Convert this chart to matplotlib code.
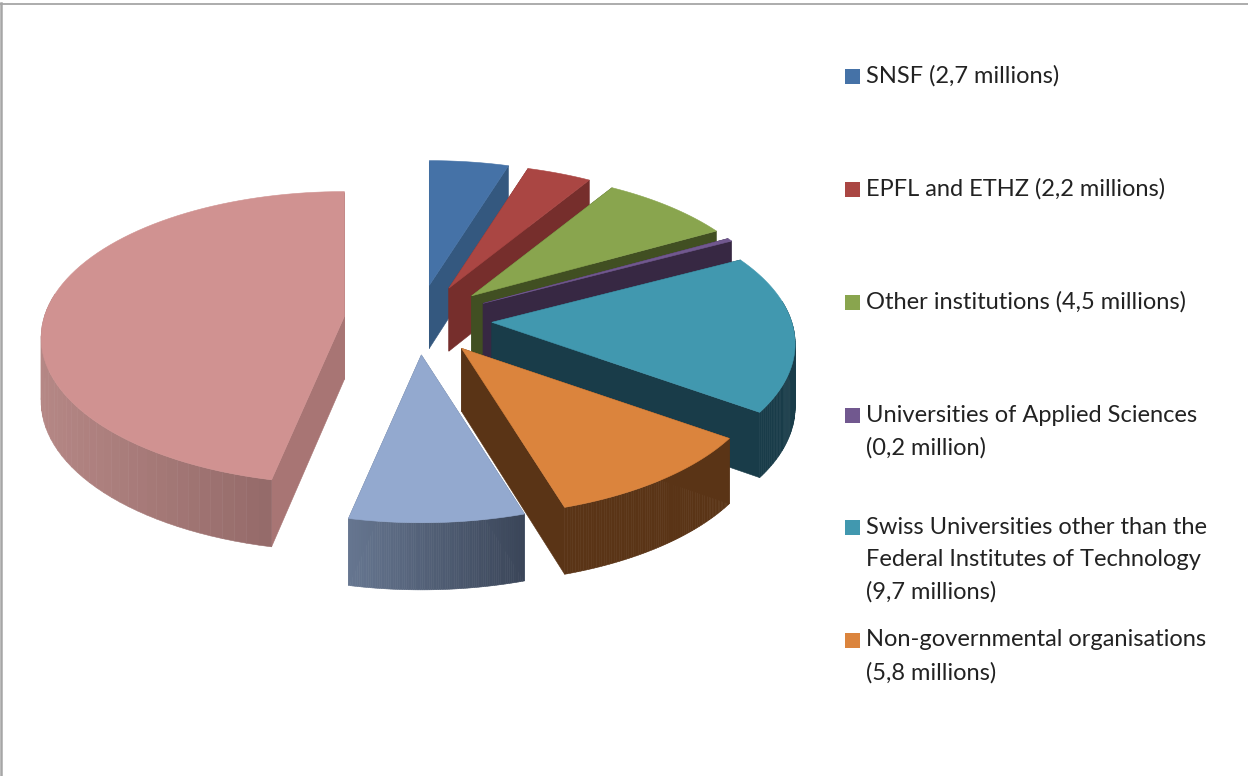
import numpy as np
import matplotlib
matplotlib.use("Agg")
import matplotlib.pyplot as plt
from matplotlib.patches import Polygon, Rectangle
from matplotlib.colors import to_rgb

# ---- data ----
labels = ["SNSF (2,7 millions)", "EPFL and ETHZ (2,2 millions)", "Other institutions (4,5 millions)",
          "Universities of Applied Sciences\n(0,2 million)",
          "Swiss Universities other than the\nFederal Institutes of Technology\n(9,7 millions)",
          "Non-governmental organisations\n(5,8 millions)", "", ""]
values = [2.7, 2.2, 4.5, 0.2, 9.7, 5.8, 4.5, 25.9]

# ---- style ----
top_colors = ["#4572A7", "#AA4643", "#89A54E", "#71588F", "#4198AF", "#DB843D", "#93A9CF", "#D09291"]
wall_colors = ["#34587F", "#762E2C", "#414F22", "#372843", "#193C49", "#5A3416", "#64738C", "#A87574"]
rim_left = ["#34587F", "#762E2C", "#414F22", "#372843", "#193C49", "#5A3416", "#667690", "#B58785"]
rim_right = ["#34587F", "#762E2C", "#414F22", "#372843", "#193C49", "#5A3416", "#3A4558", "#8A6160"]
legend_y = [76, 189, 302, 415, 527, 640]
line_h = 32.6
CX, CY = 418, 320
EX, EY = 74, 35
R, K, P, DEPTH = 300, 0.477, 0.147, 63

fig = plt.figure(figsize=(12.48, 7.76), dpi=100)
ax = fig.add_axes([0, 0, 1, 1])
ax.set_xlim(0, 1248)
ax.set_ylim(776, 0)
ax.axis("off")

def project(ax0, ay0, theta, radius):
    X = radius * np.sin(theta)
    Y = radius * np.cos(theta)
    s = 1 / (1 + P * Y / R)
    return ax0 + X * s, ay0 - K * Y * s, DEPTH * s ** 0.4

vals = np.array(values, dtype=float)
edges = np.concatenate([[0], np.cumsum(vals)]) / vals.sum() * 2 * np.pi
mids = (edges[:-1] + edges[1:]) / 2

def add(pts, color, z):
    ax.add_patch(Polygon(pts, closed=True, facecolor=color, edgecolor=color, lw=0.4, zorder=z))

order = np.argsort(-np.cos(mids))
for rank, i in enumerate(order):
    base = 10 + rank * 10
    ax0 = CX + EX * np.sin(mids[i])
    ay0 = CY - EY * np.cos(mids[i])
    th = np.linspace(edges[i], edges[i + 1], 80)
    x, y, d = project(ax0, ay0, th, R)
    # cut faces
    d0 = DEPTH
    for j in (0, -1):
        add([(ax0, ay0), (x[j], y[j]), (x[j], y[j] + d[j]), (ax0, ay0 + d0)], wall_colors[i], base)
    # outer rim strips
    cl, cr = np.array(to_rgb(rim_left[i])), np.array(to_rgb(rim_right[i]))
    span = max(x.max() - x.min(), 1)
    for j in range(len(th) - 1):
        if np.cos((th[j] + th[j + 1]) / 2) > 0.15:
            continue
        f = ((x[j] + x[j + 1]) / 2 - x.min()) / span
        c = tuple(cl + (cr - cl) * f)
        add([(x[j], y[j]), (x[j + 1], y[j + 1]), (x[j + 1], y[j + 1] + d[j + 1]), (x[j], y[j] + d[j])], c, base + 1)
    # top face
    add(np.vstack([[ax0, ay0], np.column_stack([x, y])]), top_colors[i], base + 2)

# legend
plt.rcParams["font.family"] = "Lato"
for i, (lab, ly) in enumerate(zip(labels, legend_y)):
    ax.add_patch(Rectangle((844.5, ly - 7.5), 15, 15, facecolor=top_colors[i], edgecolor="none", zorder=200))
    for n, part in enumerate(lab.split("\n")):
        ax.text(866, ly + n * line_h, part, fontsize=17, family="Lato", color="#222222",
                va="center", ha="left", zorder=200)

# frame
ax.plot([0, 1248], [3.5, 3.5], color="#A6A6A6", lw=1.3, zorder=300, clip_on=False)
ax.plot([1, 1], [3, 776], color="#A6A6A6", lw=1.8, zorder=300, clip_on=False)

fig.savefig("out.png", dpi=100)
